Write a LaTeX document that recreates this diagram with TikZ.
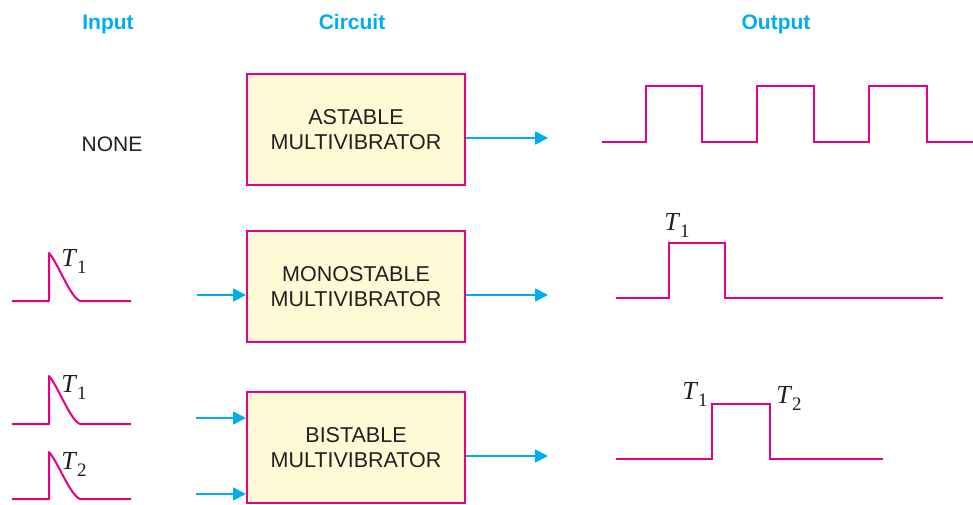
\documentclass[tikz,border=0pt]{standalone}
\usepackage{fontspec}
\setmainfont{Liberation Sans}
\newfontfamily\tfont{Liberation Serif}
\usetikzlibrary{arrows.meta,calc}
\definecolor{mag}{RGB}{232,0,130}
\definecolor{cy}{RGB}{0,174,239}
\definecolor{boxfill}{RGB}{255,249,214}
\definecolor{txt}{RGB}{35,31,32}
\newcommand\Tsub[1]{{\tfont\fontsize{26}{26}\selectfont\itshape T}\kern1.5pt\raisebox{-7pt}{\tfont\fontsize{19}{19}\selectfont #1}}
\begin{document}
\begin{tikzpicture}[x=1pt,y=-1pt,
  mvbox/.style={draw=mag,line width=2.4pt,fill=boxfill,minimum width=217.6pt,minimum height=110.6pt,
    align=center,text=txt,font=\fontsize{21.5}{24.5}\selectfont,inner sep=0pt},
  head/.style={text=cy,font=\fontsize{21}{24}\selectfont\bfseries,anchor=base},
  sig/.style={draw=mag,line width=2pt},
  arr/.style={draw=cy,line width=1.8pt,-{Triangle[length=13pt,width=13pt]}},
  tlab/.style={inner sep=0pt,text=txt}]
\useasboundingbox (0,0) rectangle (973,505);
% headings
\node[head] (hin) at (108,30) {Input};
\node[head] (hci) at (352,30) {Circuit};
\node[head] (hou) at (776,30) {Output};
% boxes
\node[mvbox] (b1) at (356,129.5) {ASTABLE\\MULTIVIBRATOR};
\node[mvbox] (b2) at (356,286.5) {MONOSTABLE\\MULTIVIBRATOR};
\node[mvbox] (b3) at (356,447.5) {BISTABLE\\MULTIVIBRATOR};
\node[text=txt,font=\fontsize{21}{24}\selectfont] (none) at (112,144) {NONE};
% arrows
\coordinate (o1) at (548,138);
\coordinate (o2) at (548,295);
\coordinate (o3) at (548,456);
\coordinate (i2) at (197,295);
\coordinate (i3a) at (196,418);
\coordinate (i3b) at (196,494);
\draw[arr] (b1.east |- o1) -- (o1);
\draw[arr] (b2.east |- o2) -- (o2);
\draw[arr] (b3.east |- o3) -- (o3);
\draw[arr] (i2) -- (b2.west |- i2);
\draw[arr] (i3a) -- (b3.west |- i3a);
\draw[arr] (i3b) -- (b3.west |- i3b);
% input pulses
\foreach \yb/\yp in {301/253, 424/376, 499/452}{
  \draw[sig,line join=round] (12,\yb) -- (49,\yb) -- (49,\yp) .. controls (58,\yp+10) and (70,\yb-4) .. (80,\yb) -- (131,\yb);
}
\node[tlab] (ti1) at (74,261) {\Tsub{1}};
\node[tlab] (ti2) at (74,387) {\Tsub{1}};
\node[tlab] (ti3) at (74,464) {\Tsub{2}};
% outputs
\draw[sig] (602,142) -- (646,142) -- (646,86) -- (702,86) -- (702,142) -- (757,142) -- (757,86)
  -- (814,86) -- (814,142) -- (869,142) -- (869,86) -- (927,86) -- (927,142) -- (973,142);
\draw[sig] (616,298) -- (669,298) -- (669,243) -- (725,243) -- (725,298) -- (943,298);
\draw[sig] (616,459) -- (712,459) -- (712,404) -- (770,404) -- (770,459) -- (883,459);
\node[tlab] (to1) at (677,225) {\Tsub{1}};
\node[tlab] (to2) at (695,394) {\Tsub{1}};
\node[tlab] (to3) at (789,398) {\Tsub{2}};
\end{tikzpicture}
\end{document}
